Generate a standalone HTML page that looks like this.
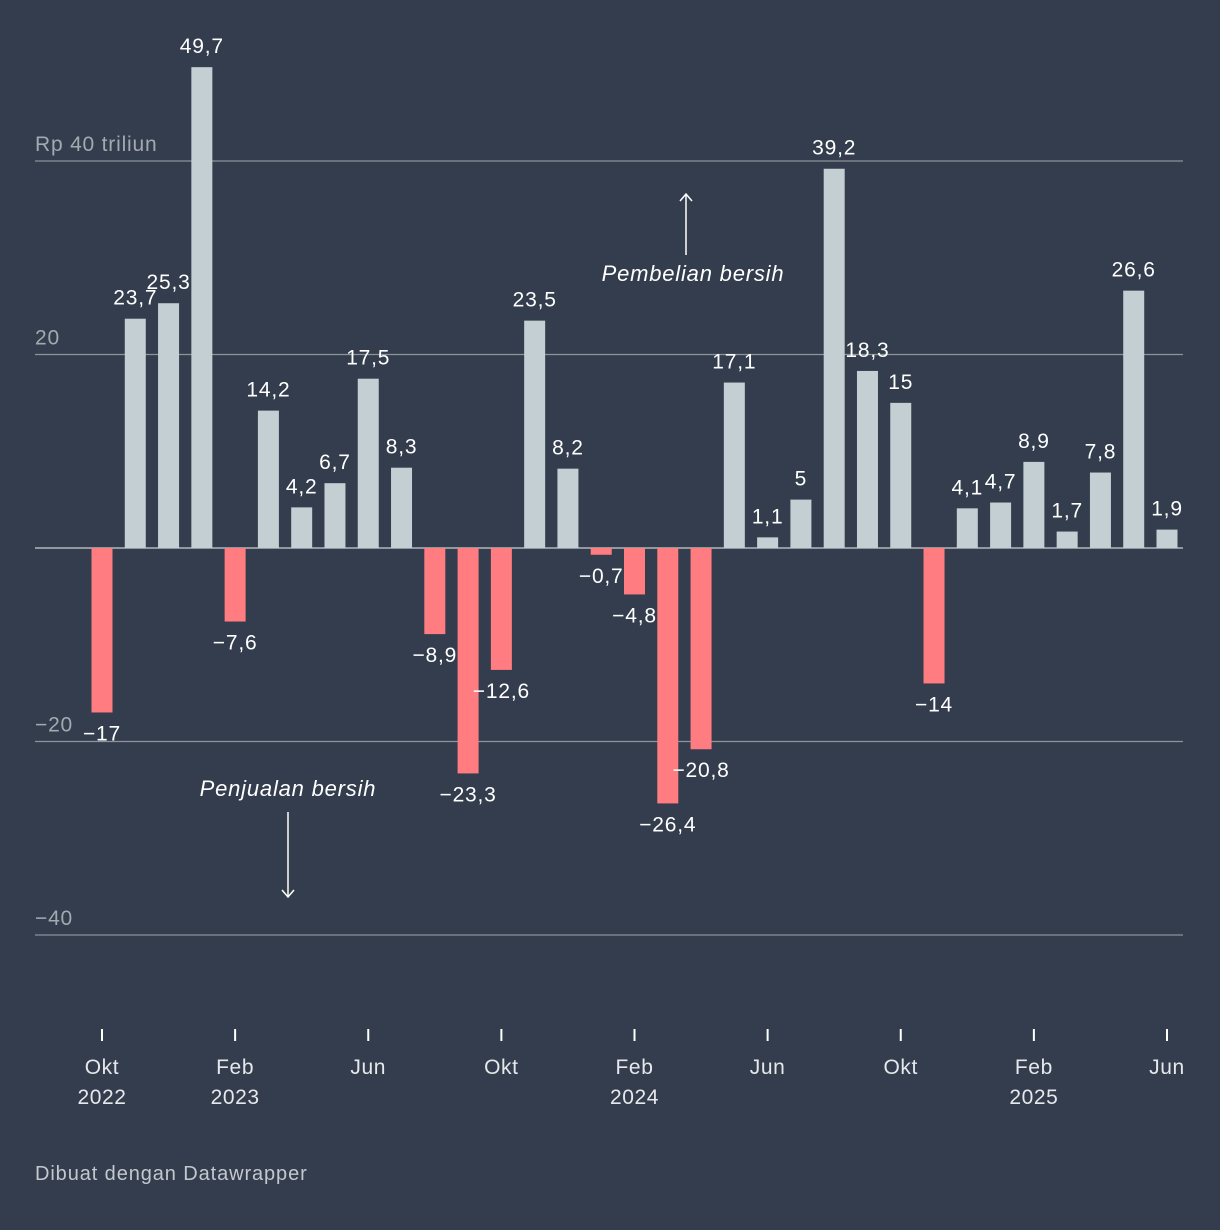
<!DOCTYPE html>
<html><head><meta charset="utf-8"><style>
html,body{margin:0;padding:0;background:#333d4d;}
svg{display:block;font-family:"Liberation Sans",Arial,sans-serif;}
</style></head><body>
<svg id="chart" width="1220" height="1230" viewBox="0 0 1220 1230">
<rect width="1220" height="1230" fill="#333d4d"/>
<g id="grid"></g><g id="bars"></g><g id="labels"></g><g id="xaxis"></g>
<g>
<line x1="686" y1="255" x2="686" y2="195" stroke="#fff" stroke-width="1.5"/>
<path d="M680,201 L686,194 L692,201" fill="none" stroke="#fff" stroke-width="1.5"/>
<text x="693" y="281" fill="#fff" font-size="22" letter-spacing="0.8" font-style="italic" text-anchor="middle">Pembelian bersih</text>
</g>
<g>
<text x="288" y="796" fill="#fff" font-size="22" letter-spacing="0.8" font-style="italic" text-anchor="middle">Penjualan bersih</text>
<line x1="288" y1="812" x2="288" y2="896" stroke="#fff" stroke-width="1.5"/>
<path d="M282,890 L288,897 L294,890" fill="none" stroke="#fff" stroke-width="1.5"/>
</g>
<text x="35" y="1180" fill="#c4c8ce" font-size="20" letter-spacing="0.9">Dibuat dengan Datawrapper</text>
</svg>
<script>
const values=[-17,23.7,25.3,49.7,-7.6,14.2,4.2,6.7,17.5,8.3,-8.9,-23.3,-12.6,23.5,8.2,-0.7,-4.8,-26.4,-20.8,17.1,1.1,5,39.2,18.3,15,-14,4.1,4.7,8.9,1.7,7.8,26.6,1.9];
const yTicks=[40,20,-20,-40];
const yTickLabels=["Rp 40 triliun","20","\u221220","\u221240"];
const xTickIdx=[0,4,8,12,16,20,24,28,32];
const xTickMonths=["Okt","Feb","Jun","Okt","Feb","Jun","Okt","Feb","Jun"];
const xTickYears=["2022","2023","","","2024","","","2025",""];
const NS="http://www.w3.org/2000/svg";
const x=i=>102+i*(1167-102)/32;
const y=v=>548-v*(548-161)/40;
function mk(t,a,p){const e=document.createElementNS(NS,t);for(const k in a)e.setAttribute(k,a[k]);p.appendChild(e);return e;}
const grid=document.getElementById('grid'),bars=document.getElementById('bars'),labels=document.getElementById('labels'),xa=document.getElementById('xaxis');
yTicks.forEach((v,i)=>{
 const l=mk('line',{x1:35,x2:1183,y1:y(v),y2:y(v),stroke:'#8e939a','stroke-width':1.2},grid);
 
 
 const t=mk('text',{x:35,y:y(v)-10,fill:'#a3a9b1','font-size':21,'letter-spacing':0.8},grid);
 t.textContent=yTickLabels[i];
 
 
});
const zl=mk('line',{x1:35,x2:1183,y1:y(0),y2:y(0),stroke:'#c9ced3','stroke-width':1.2},grid);


values.forEach((v,i)=>{
 const top=Math.min(y(v),y(0)),h=Math.abs(y(v)-y(0));
 const r=mk('rect',{x:x(i)-10.5,y:top,width:21,height:h,fill:v>=0?'#c3cfd3':'#ff7c80'},bars);
 
 
 const t=mk('text',{x:x(i),y:v>=0?y(v)-14:y(v)+28,fill:'#fff','font-size':21,'letter-spacing':0.8,'text-anchor':'middle'},labels);
 t.textContent=(v<0?'\u2212':'')+String(Math.abs(v)).replace('.',',');
 
 
});
xTickIdx.forEach((idx,j)=>{
 const l=mk('line',{x1:x(idx),x2:x(idx),y1:1029,y2:1041,stroke:'#fff','stroke-width':2},xa);
 
 
 const t=mk('text',{x:x(idx),y:1074,fill:'#e6e8eb','font-size':21,'letter-spacing':0.6,'text-anchor':'middle'},xa);
 t.textContent=xTickMonths[j];
 
 
 if(xTickYears[j]){
  const t2=mk('text',{x:x(idx),y:1104,fill:'#e6e8eb','font-size':21,'letter-spacing':0.6,'text-anchor':'middle'},xa);
  t2.textContent=xTickYears[j];
  
  
 }
});
</script>
</body></html>
